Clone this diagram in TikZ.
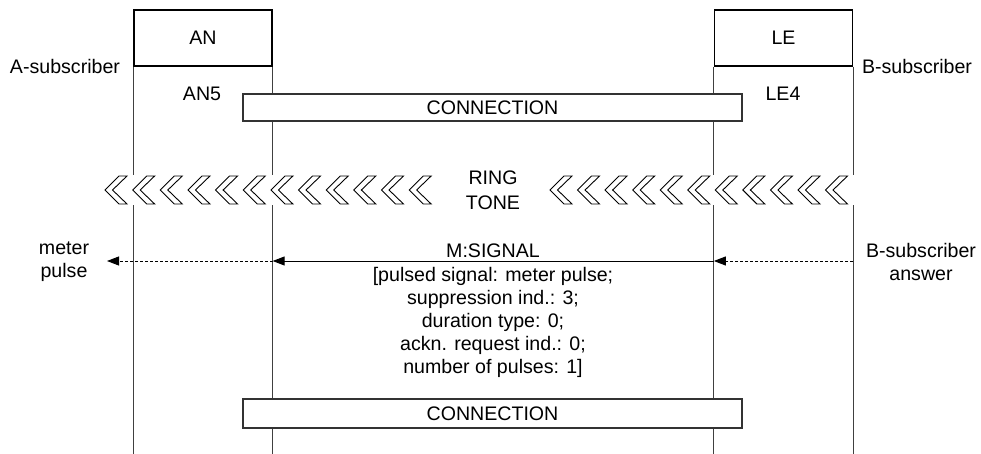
\documentclass[tikz,border=0pt]{standalone}
\usepackage{fontspec}
\setmainfont{Liberation Sans}
\usetikzlibrary{arrows.meta}
\begin{document}
\begin{tikzpicture}[x=1pt,y=-1pt,
  every node/.style={font=\fontsize{19.6}{23}\selectfont, inner sep=0pt},
  lifeline/.style={draw=black!75, line width=1pt},
  entbox/.style={draw=black, line width=1.3pt, minimum width=138pt, minimum height=56pt},
  connbox/.style={draw=black!80, line width=1.6pt, fill=white, minimum width=499pt, minimum height=27.5pt},
  chev/.style={draw=black, line width=0.9pt, fill=white, line join=miter},
  msg/.style={line width=1pt, -{Triangle[length=12pt,width=9pt]}},
  dmsg/.style={msg, dash pattern=on 3pt off 2pt}]
\useasboundingbox (0,0) rectangle (981,454);
\coordinate (bot) at (0,454);
\coordinate (sig) at (0,261);
% entity boxes
\node[entbox] (AN) at (203,38) {AN};
\node[entbox] (LE) at (783.5,38) {LE};
% lifelines
\draw[lifeline] (AN.south west) -- (AN.south west |- bot);
\draw[lifeline] (AN.south east) -- (AN.south east |- bot);
\draw[lifeline] (LE.south west) -- (LE.south west |- bot);
\draw[lifeline] (LE.south east) -- (LE.south east |- bot);
% labels
\node (Asub) at (65,66) {A-subscriber};
\node (Bsub) at (917,66) {B-subscriber};
\node (AN5) at (202,94) {AN5};
\node (LE4) at (783,94) {LE4};
% connection boxes
\node[connbox] (C1) at (492.5,107.5) {CONNECTION};
\node[connbox, minimum height=28.5pt] (C2) at (492.5,413.5) {CONNECTION};
% ring tone
\fill[white] (103,175) rectangle (856,205);
\foreach \i in {0,...,11} {
  \draw[chev] ({105+27.65*\i},190) -- ++(14,-14) -- ++(8,0) -- ++(-14.5,14) -- ++(14.5,14) -- ++(-8,0) -- cycle;
}
\foreach \i in {0,...,10} {
  \draw[chev] ({550+27.55*\i},190) -- ++(14,-14) -- ++(8,0) -- ++(-14.5,14) -- ++(14.5,14) -- ++(-8,0) -- cycle;
}
\node[align=center, font=\fontsize{19.6}{25}\selectfont] (ring) at (493,190) {RING\\TONE};
% signals
\node[anchor=base] (msig) at (493,257) {M:SIGNAL};
\node[align=center] (params) at (493,322) {[pulsed signal: meter pulse;\\suppression ind.: 3;\\duration type: 0;\\ackn. request ind.: 0;\\number of pulses: 1]};
\node[align=center] (mp) at (64,262) {meter\\pulse};
\node[align=center] (bans) at (921,262) {B-subscriber\\answer};
\coordinate (mpend) at (107,261);
\draw[msg] (LE.south west |- sig) -- (AN.south east |- sig);
\draw[dmsg] (LE.south east |- sig) -- (LE.south west |- sig);
\draw[dmsg] (AN.south east |- sig) -- (mpend);
\end{tikzpicture}
\end{document}
